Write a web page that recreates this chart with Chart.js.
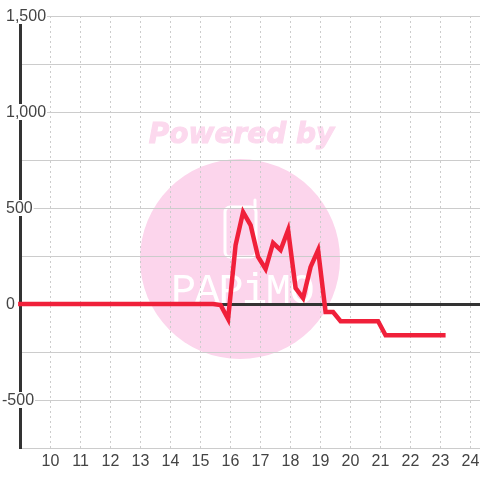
<!DOCTYPE html>
<html>
<head>
<meta charset="utf-8">
<style>
  html, body { margin: 0; padding: 0; background: #fff; }
  canvas { display: block; }
</style>
<script src="https://cdn.jsdelivr.net/npm/chart.js@4/dist/chart.umd.js"></script>
</head>
<body>
<canvas id="chart" width="480" height="480"></canvas>
<script>
const hours = [8.92, 9.17, 9.42, 9.67, 9.92, 10.17, 10.42, 10.67, 10.92, 11.17, 11.42, 11.67, 11.92,
    12.17, 12.42, 12.67, 12.92, 13.17, 13.42, 13.67, 13.92, 14.17, 14.42, 14.67, 14.92, 15.17, 15.42,
    15.67, 15.92, 16.17, 16.42, 16.67, 16.92, 17.17, 17.42, 17.67, 17.92, 18.17, 18.42, 18.67, 18.92,
    19.17, 19.42, 19.67, 19.92, 20.17, 20.42, 20.67, 20.92, 21.17, 21.42, 21.67, 21.92, 22.17, 22.42,
    22.67, 22.92, 23.17];
const values = [0, 0, 0, 0, 0, 0, 0, 0, 0, 0, 0, 0, 0,
    0, 0, 0, 0, 0, 0, 0, 0, 0, 0, 0, 0, 0, 0,
    -5, -78, 307, 479, 411, 245, 182, 318, 281, 385, 83, 31, 193, 281,
    -42, -42, -90, -90, -90, -90, -90, -90, -163, -163, -163, -163, -163, -163,
    -163, -163, -163];
const xTicks = [10, 11, 12, 13, 14, 15, 16, 17, 18, 19, 20, 21, 22, 23, 24];
const yTicks = [-750, -500, -250, 0, 250, 500, 750, 1000, 1250, 1500];
const yLabelled = [-500, 0, 500, 1000, 1500];

const TEXT = "#444";
const GRID = "#ccc";
const AXIS = "#333";
const FONT = '16px "Liberation Sans"';

// watermark sits behind the grid
const watermark = {
    id: "watermark",
    beforeDraw(chart) {
        const ctx = chart.ctx;
        ctx.save();
        ctx.fillStyle = "#fcd5ec";
        ctx.beginPath();
        ctx.arc(240, 259, 100, 0, Math.PI * 2);
        ctx.fill();

        ctx.fillStyle = "#fcd9ee";
        ctx.strokeStyle = "#fcd9ee";
        ctx.lineWidth = 1;
        ctx.font = 'italic bold 28px "DejaVu Sans"';
        ctx.textAlign = "center";
        ctx.textBaseline = "middle";
        ctx.fillText("Powered by", 241.5, 136);
        ctx.strokeText("Powered by", 241.5, 136);

        ctx.strokeStyle = "#fff";
        ctx.lineWidth = 3;
        ctx.lineCap = "round";
        ctx.beginPath();
        ctx.roundRect(225, 207, 31, 50, 5);
        ctx.stroke();
        ctx.beginPath();
        ctx.moveTo(255, 207);
        ctx.lineTo(255, 200);
        ctx.stroke();

        ctx.fillStyle = "#fff";
        ctx.font = '42px "Liberation Mono"';
        ctx.textAlign = "left";
        ctx.textBaseline = "alphabetic";
        ctx.letterSpacing = "-1.5px";
        ctx.fillText("PAPiMO", 171, 303);
        ctx.restore();
    }
};

// y labels sit on top of the left axis, each on a white patch
const yLabels = {
    id: "yLabels",
    afterDraw(chart) {
        const ctx = chart.ctx;
        const scale = chart.scales.y;
        ctx.save();
        ctx.font = FONT;
        ctx.textBaseline = "middle";
        yLabelled.forEach(v => {
            const text = v.toLocaleString("en-US");
            const y = scale.getPixelForValue(v);
            const left = v < 0 ? 2 : 6;
            const w = ctx.measureText(text).width;
            if (v !== 0) {
                ctx.fillStyle = "#fff";
                ctx.fillRect(left - 1, y - 8, w + 2, 16);
            }
            ctx.fillStyle = TEXT;
            ctx.fillText(text, left, y + 1);
        });
        ctx.restore();
    }
};

new Chart(document.getElementById("chart"), {
    type: "line",
    data: {
        datasets: [{
            data: hours.map((h, i) => ({ x: h, y: values[i] })),
            borderColor: "#f0203a",
            borderWidth: 4.5,
            pointRadius: 0,
            tension: 0,
            clip: false,
        }],
    },
    options: {
        responsive: false,
        animation: false,
        layout: { padding: { top: 16, left: 0.5, right: 0, bottom: 0 } },
        plugins: { legend: { display: false }, tooltip: { enabled: false } },
        scales: {
            x: {
                type: "linear",
                min: 9,
                max: 24.317,
                afterBuildTicks: axis => { axis.ticks = xTicks.map(v => ({ value: v })); },
                afterFit: axis => {
                    axis.height = 32;
                    axis.paddingLeft = 0;
                    axis.paddingRight = 0;
                },
                ticks: {
                    autoSkip: false,
                    maxRotation: 0,
                    padding: 4,
                    color: TEXT,
                    font: { family: "Liberation Sans", size: 16 },
                    callback: v => String(v),
                },
                grid: { color: GRID, lineWidth: 1, drawTicks: false },
                border: { color: GRID, width: 1, dash: [2, 3] },
            },
            y: {
                type: "linear",
                min: -750,
                max: 1500,
                afterBuildTicks: axis => { axis.ticks = yTicks.map(v => ({ value: v })); },
                afterFit: axis => { axis.width = 20; },
                ticks: { display: false },
                grid: {
                    color: ctx => ctx.tick && ctx.tick.value === 0 ? AXIS : GRID,
                    lineWidth: ctx => ctx.tick && ctx.tick.value === 0 ? 3 : 1,
                    drawTicks: false,
                },
                border: { color: AXIS, width: 3 },
            },
        },
    },
    plugins: [watermark, yLabels],
});
</script>
</body>
</html>
